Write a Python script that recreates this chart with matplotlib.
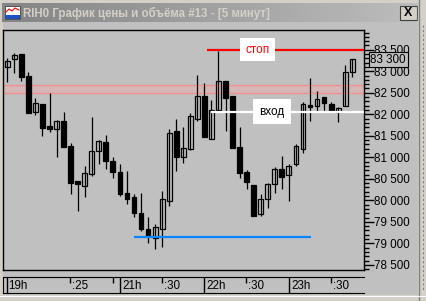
import matplotlib
matplotlib.use("Agg")
import matplotlib.pyplot as plt
from matplotlib.patches import Rectangle
from matplotlib.ticker import MultipleLocator, FuncFormatter

plt.rcParams["font.family"] = ["Liberation Sans", "DejaVu Sans"]

# 5-minute bars, RIH0, evening session
opens = [83090, 83280, 83400, 82890, 82050, 82240, 81730, 81650, 81845, 81260,
         80450, 80340, 80610, 81140, 81350, 80905, 80660, 80165, 80075, 79700,
         79340, 79115, 79325, 79990, 81610, 81000, 81200, 81900, 82425, 81435,
         82105, 82770, 82425, 81235, 80660, 80350, 79675, 80025, 80370, 80720,
         80580, 80850, 81200, 82210, 82195, 82395, 82235, 82070, 82185, 82975]
highs = [83300, 83420, 83410, 82985, 82370, 82240, 82490, 81870, 82060, 81325,
         80450, 80800, 81945, 81400, 81520, 81000, 80835, 80675, 80145, 80165,
         79605, 79450, 80215, 81650, 81885, 81700, 82035, 82920, 82735, 82335,
         83475, 82770, 82425, 81700, 80705, 80350, 80145, 80410, 80780, 81030,
         80845, 81300, 82285, 82845, 82540, 82395, 82285, 82180, 83140, 83280]
lows = [82760, 82970, 82780, 82035, 81990, 81500, 81590, 81015, 81245, 80145,
        79760, 80085, 80565, 80835, 80720, 80510, 80100, 79905, 79620, 79290,
        79000, 78875, 78920, 79875, 80690, 80875, 81170, 81845, 81480, 81435,
        82055, 81620, 81225, 80525, 80265, 79630, 79640, 79830, 80175, 80255,
        79990, 80800, 81105, 81850, 82070, 82070, 82070, 81830, 82185, 82860]
closes = [83250, 83370, 82875, 82040, 82255, 81690, 81660, 81845, 81250, 80395,
          80370, 80630, 81140, 81380, 80905, 80650, 80145, 80035, 79700, 79340,
          79175, 79370, 80025, 81560, 81000, 81210, 81955, 82425, 81480, 82095,
          82770, 82385, 81225, 80640, 80420, 79640, 80025, 80380, 80720, 80535,
          80800, 81265, 82235, 82180, 82350, 82255, 82070, 82155, 82975, 83280]

last_price = 83300
stop_price = 83500
entry_price = 82060
support_price = 79155
zone_low, zone_high = 82490, 82670

# time axis (bar index of each mark)
hour_ticks = [16, 28, 40]
hour_labels = ["21h", "22h", "23h"]
half_ticks = [9, 15, 22, 34, 46]
half_labels = [":25", "", ":30", ":30", ":30"]
first_label = "19h"

title = "RIH0 График цены и объёма #13 - [5 минут]"

W, H = 426, 301


def frac(x0, y0, x1, y1):
    return [x0 / W, 1 - y1 / H, (x1 - x0) / W, (y1 - y0) / H]


fig = plt.figure(figsize=(W / 100, H / 100), dpi=100, facecolor="#c0c0c0")

# window chrome in pixel coords
bg = fig.add_axes([0, 0, 1, 1])
bg.set_xlim(0, W)
bg.set_ylim(H, 0)
bg.axis("off")
bg.add_patch(Rectangle((0, 0), W, 3, color="#d4d0c8"))
bg.add_patch(Rectangle((0, 0), 2, H, color="#d4d0c8"))
# title bar gradient
n = 60
for i in range(n):
    c = 0.52 + 0.22 * i / n
    bg.add_patch(Rectangle((2 + i * 416 / n, 3), 416 / n + 0.5, 19, color=(c, c, c), lw=0))
bg.text(23, 13, title, color="#d4d0c8", fontsize=8.3, fontweight="bold", va="center")
# little icon
bg.add_patch(Rectangle((5, 6), 15, 13, facecolor="white", edgecolor="#404040", lw=0.6))
bg.add_patch(Rectangle((5, 15), 15, 4, facecolor="#2050c0", lw=0))
bg.plot([6, 9, 12, 15, 19], [12, 9, 11, 8, 10], color="red", lw=0.8)
# close button
bg.add_patch(Rectangle((400, 6), 17, 14, facecolor="#d4d0c8", edgecolor="#404040", lw=0.8))
bg.text(408.5, 13.5, "X", fontsize=9, fontweight="bold", ha="center", va="center")
# right edge and bottom
bg.add_patch(Rectangle((418, 0), 8, H, color="#d4d0c8"))
bg.plot([418.5, 418.5], [0, H], color="#808080", lw=1)
bg.plot([423, 423], [25, 290], color="#808080", lw=0.8, ls=(0, (2, 2)))
bg.add_patch(Rectangle((0, 295), W, 6, color="#d4d0c8"))
bg.plot([0, W], [295.5, 295.5], color="#ffffff", lw=0.8)

# price chart
ax = fig.add_axes(frac(3, 30, 364, 270), facecolor="#c0c0c0")
xs = list(range(len(opens)))
ax.set_xlim(-0.61, 50.67)
ax.set_ylim(78380, 83960)

ax.axhspan(zone_low, zone_high, facecolor="#d6b6b6", edgecolor="none", zorder=1)
ax.axhline(zone_low, color="#f09090", lw=1, zorder=1)
ax.axhline(zone_high, color="#f09090", lw=1, zorder=1)

bw = 0.68
for x, o, h, l, c in zip(xs, opens, highs, lows, closes):
    ax.vlines(x, l, h, color="black", lw=0.9, zorder=3)
    lo, hi = min(o, c), max(o, c)
    fill = "none" if c >= o else "black"
    ax.add_patch(Rectangle((x - bw / 2, lo), bw, max(hi - lo, 20), facecolor=fill,
                           edgecolor="black", lw=0.9, zorder=4))

ax.hlines(stop_price, 28.3, 50.67, color="red", lw=1.6, zorder=5)
ax.hlines(entry_price, 28.9, 50.67, color="white", lw=1.6, zorder=5)
ax.hlines(support_price, 18, 43.1, color="#0a84ff", lw=1.6, zorder=5)
ax.text(35.6, stop_price, "стоп", color="red", fontsize=8.5, ha="center", va="center",
        zorder=6, bbox=dict(boxstyle="square,pad=0.45", facecolor="white", edgecolor="none"))
ax.text(37.6, entry_price, "вход", color="black", fontsize=8.5, ha="center", va="center",
        zorder=6, bbox=dict(boxstyle="square,pad=0.55", facecolor="white", edgecolor="none"))

ax.yaxis.tick_right()
ax.yaxis.set_major_locator(MultipleLocator(500))
ax.yaxis.set_minor_locator(MultipleLocator(100))
ax.yaxis.set_major_formatter(FuncFormatter(lambda v, p: f"{int(v):,}".replace(",", " ")))
ax.tick_params(axis="y", which="major", length=7, width=1, pad=0.5, labelsize=8.4)
ax.tick_params(axis="y", which="minor", length=3.5, width=1)
ax.set_xticks([])
for s in ax.spines.values():
    s.set_linewidth(1)
ax.text(1.018, last_price - 30, f"{last_price:,}".replace(",", " "),
        transform=ax.get_yaxis_transform(), fontsize=8.4, va="center", ha="left",
        clip_on=False, zorder=10,
        bbox=dict(boxstyle="square,pad=0.15", facecolor="#c0c0c0", edgecolor="black", lw=0.8))

# time axis
tax = fig.add_axes(frac(3, 277, 364, 293), facecolor="#c0c0c0")
tax.set_xlim(ax.get_xlim())
tax.set_ylim(0, 1)
tax.set_xticks([])
tax.set_yticks([])
tax.spines["right"].set_visible(False)
tax.axvline(-0.1, color="black", lw=1)
tax.text(0.1, 0.45, first_label, fontsize=8.4, va="center")
for t, lab in zip(hour_ticks, hour_labels):
    tax.axvline(t - 0.05, color="black", lw=1)
    tax.text(t + 0.3, 0.45, lab, fontsize=8.4, va="center")
for t, lab in zip(half_ticks, half_labels):
    tax.vlines(t - 0.05, 0.62, 1, color="black", lw=1)
    tax.text(t + 0.2, 0.45, lab, fontsize=8.4, va="center")

fig.savefig("out.png", dpi=100, facecolor=fig.get_facecolor())
